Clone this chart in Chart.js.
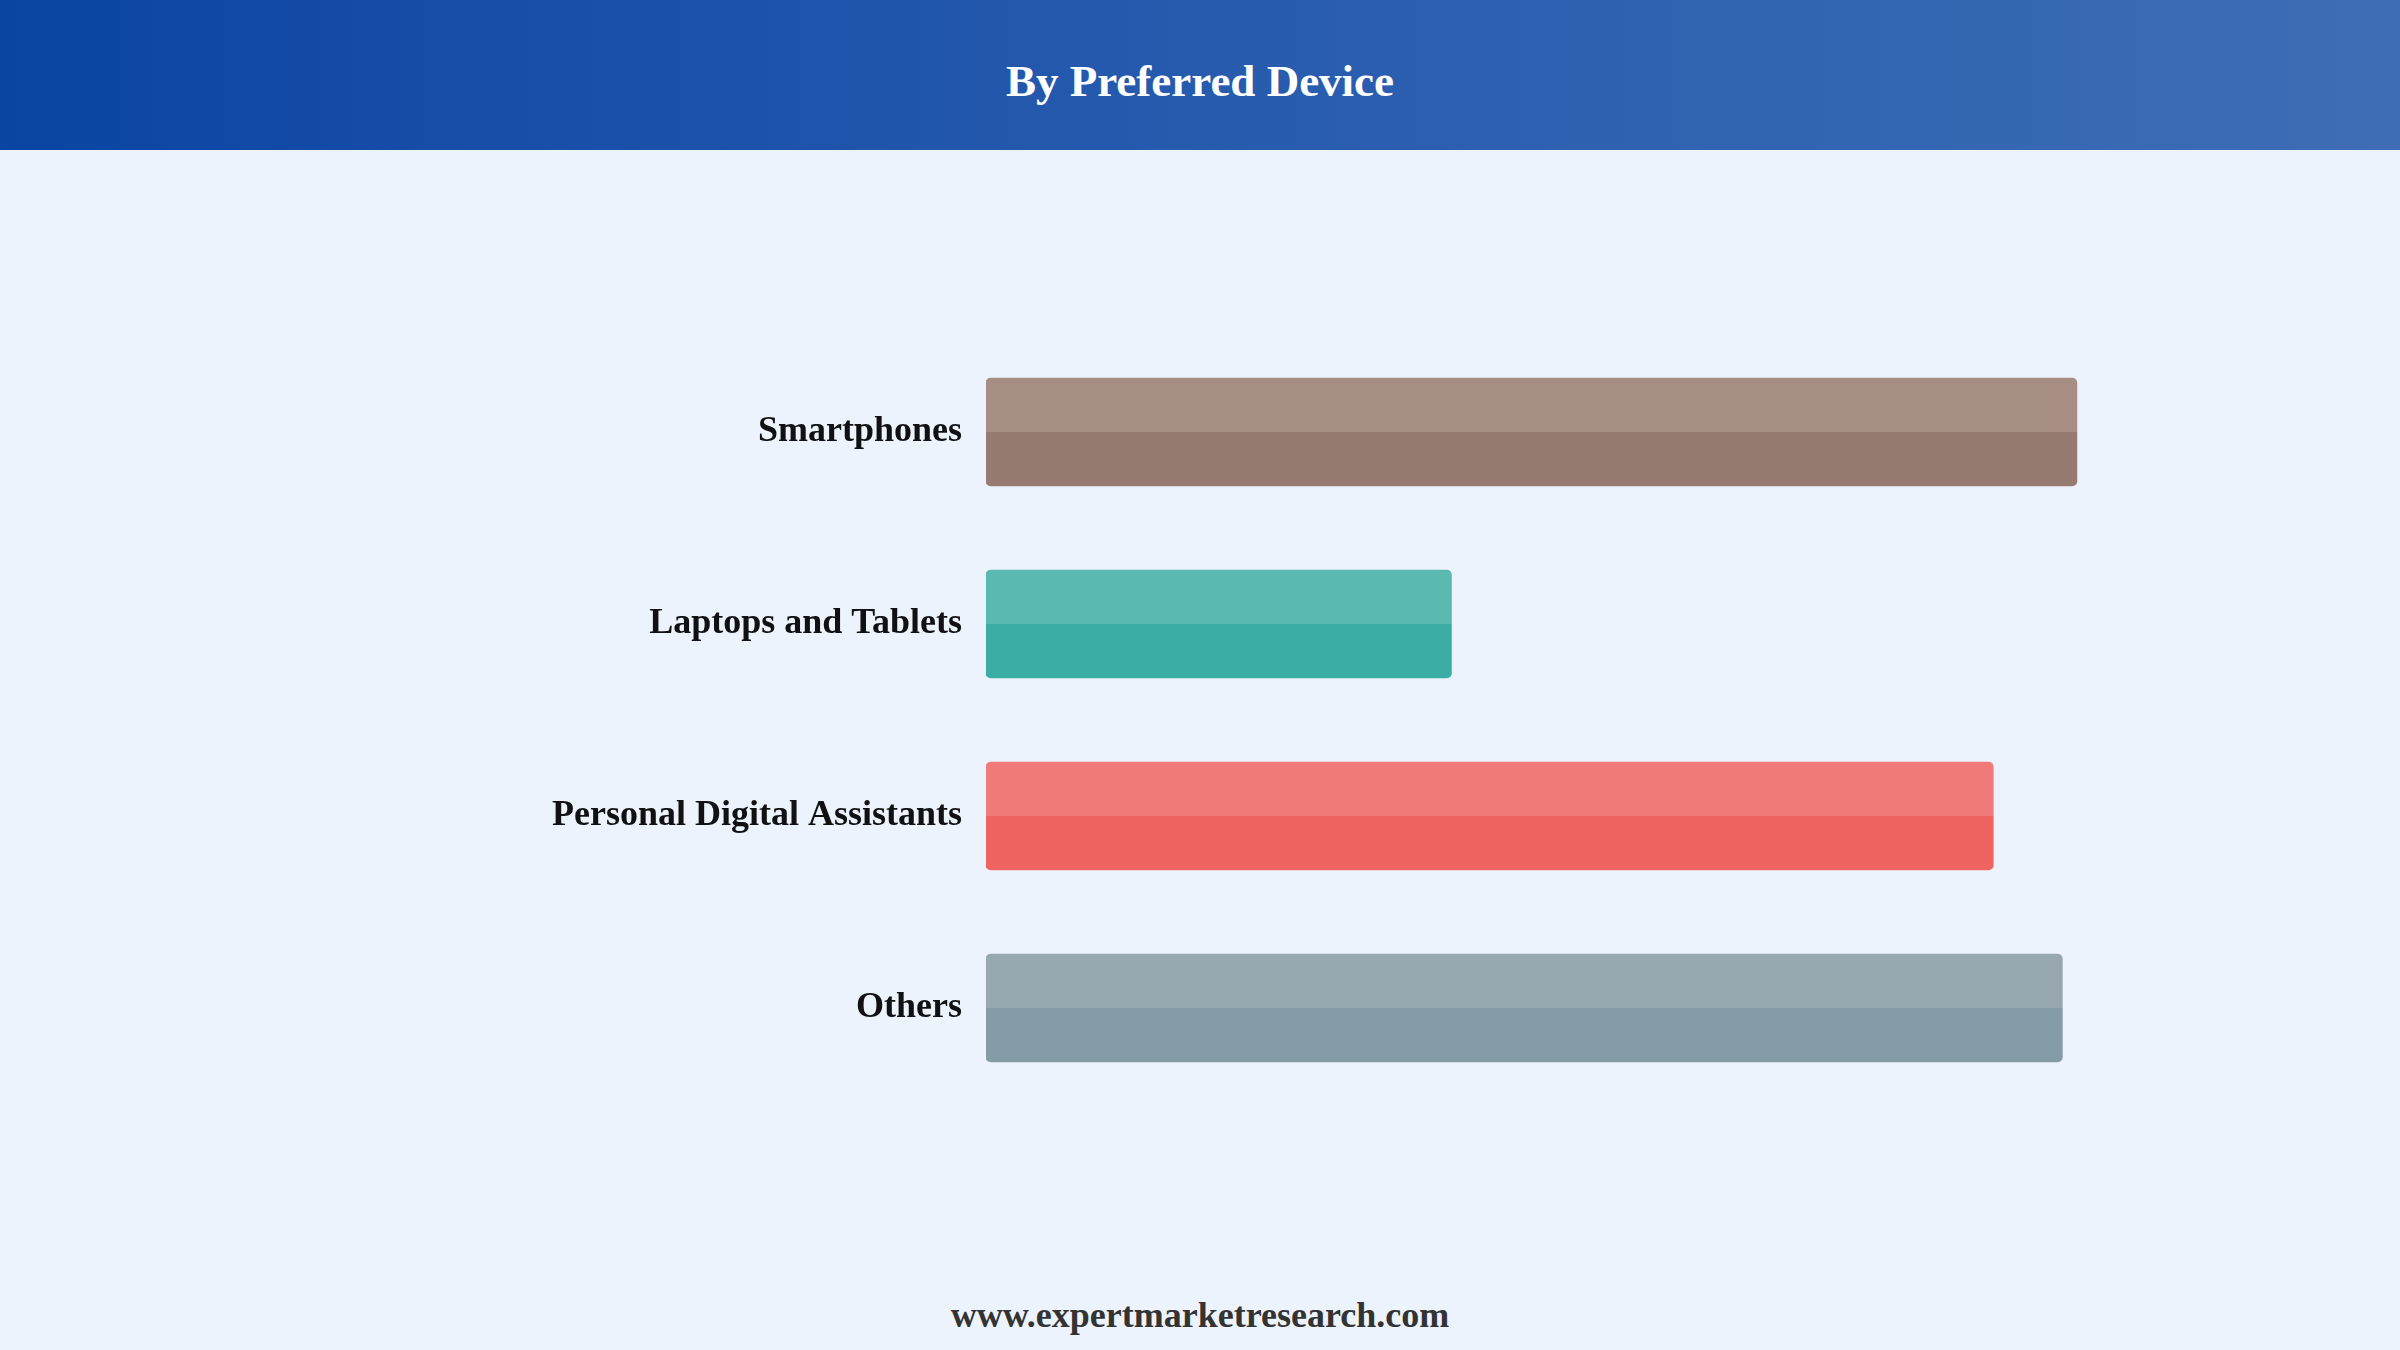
<!DOCTYPE html>
<html>
<head>
<meta charset="utf-8">
<script src="https://cdn.jsdelivr.net/npm/chart.js@4/dist/chart.umd.min.js"></script>
<style>
  html, body { margin: 0; padding: 0; width: 2400px; height: 1350px; overflow: hidden; background: #ecf3fc; }
  #header { position: absolute; left: 0; top: 0; width: 2400px; height: 150px;
    background: linear-gradient(to right, #0b45a3, #2c5fb0 60%, #3e6db5);
    display: flex; align-items: center; justify-content: center; }
  #header h1 { margin: 0; padding-top: 12px; color: #fff; font-family: "Liberation Serif", "Times New Roman", serif; font-weight: bold; font-size: 45px; }
  #footer { position: absolute; left: 0; top: 1294px; width: 2400px; text-align: center;
    font-family: "Liberation Serif", "Times New Roman", serif; font-weight: bold; font-size: 36px; color: #333; }
  #wrap { position: absolute; left: 0; top: 3px; width: 2400px; height: 1350px; }
</style>
</head>
<body>
<div id="header"><h1>By Preferred Device</h1></div>
<div id="footer">www.expertmarketresearch.com</div>
<div id="wrap"><canvas id="c"></canvas></div>
<script>
const categories = ["Smartphones", "Laptops and Tablets", "Personal Digital Assistants", "Others"];
const shareValues = [30.0, 12.8, 27.7, 29.6];
const topColors = ["#a78e85", "#5ab9b0", "#f07a7a", "#97a8b1"];
const bottomColors = ["#967b72", "#3bada4", "#ef6461", "#849ca5"];
const axisMax = 33;
const BAR_H = 108;

function splitFill(ctx) {
  const chart = ctx.chart;
  const yScale = chart.scales.y;
  if (!yScale || !chart.chartArea) return bottomColors[ctx.dataIndex];
  const cy = yScale.getPixelForValue(ctx.dataIndex);
  const g = chart.ctx.createLinearGradient(0, cy - BAR_H / 2, 0, cy + BAR_H / 2);
  g.addColorStop(0, topColors[ctx.dataIndex]);
  g.addColorStop(0.5, topColors[ctx.dataIndex]);
  g.addColorStop(0.5, bottomColors[ctx.dataIndex]);
  g.addColorStop(1, bottomColors[ctx.dataIndex]);
  return g;
}

new Chart(document.getElementById("c"), {
  type: "bar",
  data: {
    labels: categories,
    datasets: [{
      data: shareValues,
      backgroundColor: splitFill,
      borderWidth: 0,
      borderRadius: 5,
      borderSkipped: false,
      barThickness: BAR_H
    }]
  },
  options: {
    indexAxis: "y",
    responsive: true,
    maintainAspectRatio: false,
    animation: false,
    layout: { padding: { top: 333, bottom: 249, left: 0, right: 214 } },
    plugins: { legend: { display: false }, tooltip: { enabled: false } },
    scales: {
      x: { display: false, min: 0, max: axisMax },
      y: {
        grid: { display: false, drawBorder: false },
        border: { display: false },
        afterFit: (s) => { s.width = 986; },
        ticks: {
          color: "#111",
          padding: 16,
          font: { family: "'Liberation Serif', 'Times New Roman', serif", weight: "bold", size: 36 }
        }
      }
    }
  }
});
</script>
</body>
</html>
